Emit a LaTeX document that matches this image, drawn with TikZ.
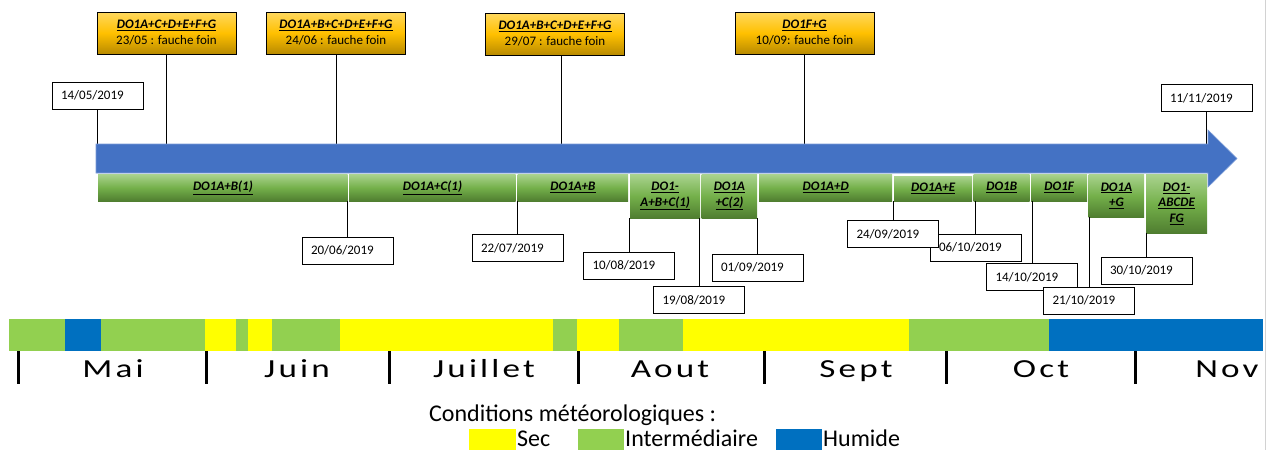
\documentclass[tikz,border=0pt]{standalone}
\usepackage{fontspec}
\setmainfont{Carlito}
\newfontfamily\monthfont[LetterSpace=9]{Carlito}
\definecolor{goldT}{HTML}{FFD85E}
\definecolor{goldM}{HTML}{FFC000}
\definecolor{goldB}{HTML}{B88A00}
\definecolor{grT}{HTML}{AAD38F}
\definecolor{grM}{HTML}{74B04A}
\definecolor{grB}{HTML}{4F7D30}
\definecolor{arrowblue}{HTML}{4472C4}
\definecolor{arrowedge}{HTML}{7A9AD6}
\definecolor{wgreen}{HTML}{92D050}
\definecolor{wyellow}{HTML}{FFFF00}
\definecolor{wblue}{HTML}{0070C0}
\newcommand\uln[1]{\underline{#1}}
\newcommand\mlabel[1]{\scalebox{1.35}[1]{#1}}
\tikzset{
  goldbox/.style={draw=black, line width=0.8pt, top color=goldT, bottom color=goldB, middle color=goldM,
    minimum width=139pt, minimum height=42pt, align=center, inner sep=0pt,
    font=\fontsize{13}{16}\selectfont},
  datebox/.style={draw=black, line width=0.7pt, fill=white, minimum width=91pt, minimum height=27pt,
    text width=73pt, align=left, inner sep=0pt, font=\fontsize{13}{15}\selectfont},
  greenbar/.style={top color=grT, bottom color=grB, middle color=grM, inner sep=0pt, align=center,
    anchor=north west, font=\fontsize{13}{15.5}\selectfont\bfseries\itshape},
  conn/.style={draw=black, line width=0.7pt},
  tick/.style={draw=black, line width=3pt},
  month/.style={inner sep=0pt, anchor=base, font=\monthfont\fontsize{26}{26}\selectfont},
  legtext/.style={inner sep=0pt, anchor=base west, text depth=0pt, font=\fontsize{24}{24}\selectfont},
}
\begin{document}
\begin{tikzpicture}[x=1pt,y=-1pt]
\useasboundingbox (0,0) rectangle (1271,450);
\draw[gray!35, line width=0.6pt] (1265,0) -- (1265,450);

% top gold boxes
\node[goldbox] (g1) at (166.5,33) {\textbf{\textit{\uln{DO1A+C+D+E+F+G}}}\\23/05 : fauche foin};
\node[goldbox] (g2) at (336,33) {\textbf{\textit{\uln{DO1A+B+C+D+E+F+G}}}\\24/06 : fauche foin};
\node[goldbox] (g3) at (555,34) {\textbf{\textit{\uln{DO1A+B+C+D+E+F+G}}}\\29/07 : fauche foin};
\node[goldbox] (g4) at (804.5,33) {\textbf{\textit{\uln{DO1F+G}}}\\10/09: fauche foin};

% start / end date boxes
\node[datebox] (d0514) at (97.5,95.5) {14/05/2019};
\node[datebox] (d1111) at (1206.5,98) {11/11/2019};

% arrow
\coordinate (atop) at (0,144);
\draw[conn] (g1.south) -- (g1.south |- atop);
\draw[conn] (g2.south) -- (g2.south |- atop);
\draw[conn] ([xshift=6pt]g3.south) -- ([xshift=6pt]g3.south |- atop);
\draw[conn] (g4.south) -- (g4.south |- atop);
\draw[conn] (d0514.south) -- (d0514.south |- atop);
\draw[conn] (d1111.south) -- (d1111.south |- atop);
\draw[fill=arrowblue, draw=arrowedge, line width=0.6pt]
  (96,144) -- (1208,144) -- (1208,130) -- (1237,158.5) -- (1208,187) -- (1208,173) -- (96,173) -- cycle;

% green period bars
\node[greenbar, minimum width=249.5pt, minimum height=27pt] (b1) at (98,174) {\uln{DO1A+B(1)}};
\node[greenbar, minimum width=166.5pt, minimum height=27pt] (b2) at (349,174) {\uln{DO1A+C(1)}};
\node[greenbar, minimum width=110.5pt, minimum height=27pt] (b3) at (517.5,174) {\uln{DO1A+B}};
\node[greenbar, minimum width=70pt, minimum height=44pt] (b4) at (630,174) {\uln{DO1-}\\\uln{A+B+C(1)}};
\node[greenbar, minimum width=55.5pt, minimum height=44pt] (b5) at (701.5,174) {\uln{DO1A}\\\uln{+C(2)}};
\node[greenbar, minimum width=133pt, minimum height=27pt] (b6) at (759,174) {\uln{DO1A+D}};
\node[greenbar, minimum width=78pt, minimum height=25pt] (b7) at (894,176) {\uln{DO1A+E}};
\node[greenbar, minimum width=56pt, minimum height=27pt] (b8) at (973.5,174) {\uln{DO1B}};
\node[greenbar, minimum width=56pt, minimum height=27pt] (b9) at (1031,174) {\uln{DO1F}};
\node[greenbar, minimum width=55.5pt, minimum height=43pt] (b10) at (1088.5,174) {\uln{DO1A}\\\uln{+G}};
\node[greenbar, minimum width=61pt, minimum height=59pt] (b11) at (1146,174) {\uln{DO1-}\\\uln{ABCDE}\\\uln{FG}};

% date boxes below
\node[datebox] (d0620) at (347.5,250.5) {20/06/2019};
\node[datebox] (d0722) at (517.5,248) {22/07/2019};
\node[datebox] (d0810) at (629,265.5) {10/08/2019};
\node[datebox] (d0819) at (699,300) {19/08/2019};
\node[datebox] (d0901) at (757.5,267.5) {01/09/2019};
\node[datebox] (d1006) at (975.5,247.5) {06/10/2019};
\node[datebox] (d0924) at (893,234) {24/09/2019};
\node[datebox] (d1014) at (1032,277) {14/10/2019};
\node[datebox] (d1021) at (1089,300.5) {21/10/2019};
\node[datebox] (d1030) at (1146.5,270.5) {30/10/2019};

\draw[conn] (d0620.north) -- (d0620.north |- b1.south);
\draw[conn] (d0722.north) -- (d0722.north |- b2.south);
\draw[conn] (d0810.north) -- (d0810.north |- b4.south);
\draw[conn] (d0819.north) -- (d0819.north |- b4.south);
\draw[conn] (d0901.north) -- (d0901.north |- b5.south);
\draw[conn] (d0924.north) -- (d0924.north |- b6.south);
\draw[conn] (d1006.north) -- (d1006.north |- b7.south);
\draw[conn] (d1014.north) -- (d1014.north |- b9.south);
\draw[conn] (d1021.north) -- (d1021.north |- b10.south);
\draw[conn] (d1030.north) -- (d1030.north |- b11.south);

% weather bar
\fill[wgreen] (9,319) rectangle (65,351);
\fill[wblue] (65,319) rectangle (101,351);
\fill[wgreen] (101,319) rectangle (205,351);
\fill[wyellow] (205,319) rectangle (236,351);
\fill[wgreen] (236,319) rectangle (248,351);
\fill[wyellow] (248,319) rectangle (272,351);
\fill[wgreen] (272,319) rectangle (340,351);
\fill[wyellow] (340,319) rectangle (553,351);
\fill[wgreen] (553,319) rectangle (577,351);
\fill[wyellow] (577,319) rectangle (619,351);
\fill[wgreen] (619,319) rectangle (683,351);
\fill[wyellow] (683,319) rectangle (909,351);
\fill[wgreen] (909,319) rectangle (1049,351);
\fill[wblue] (1049,319) rectangle (1263,351);

% month ticks and labels
\foreach \x in {18,206,389,578,764,946,1135} \draw[tick] (\x,351) -- (\x,384);
\node[month] (mMai) at (113,377) {\mlabel{Mai}};
\node[month] (mJuin) at (297,377) {\mlabel{Juin}};
\node[month] (mJuil) at (484,377) {\mlabel{Juillet}};
\node[month] (mAout) at (670,377) {\mlabel{Aout}};
\node[month] (mSept) at (856,377) {\mlabel{Sept}};
\node[month] (mOct) at (1041,377) {\mlabel{Oct}};
\node[month] (mNov) at (1227,377) {\mlabel{Nov}};

% legend
\node[legtext] (lt) at (429,421) {Conditions météorologiques :};
\fill[wyellow] (469,429) rectangle (516,450);
\node[legtext] (lsec) at (517,446) {Sec};
\fill[wgreen] (578,429) rectangle (624,450);
\node[legtext] (lint) at (625,446) {Intermédiaire};
\fill[wblue] (776,429) rectangle (822,450);
\node[legtext] (lhum) at (823,446) {Humide};
\end{tikzpicture}
\end{document}
